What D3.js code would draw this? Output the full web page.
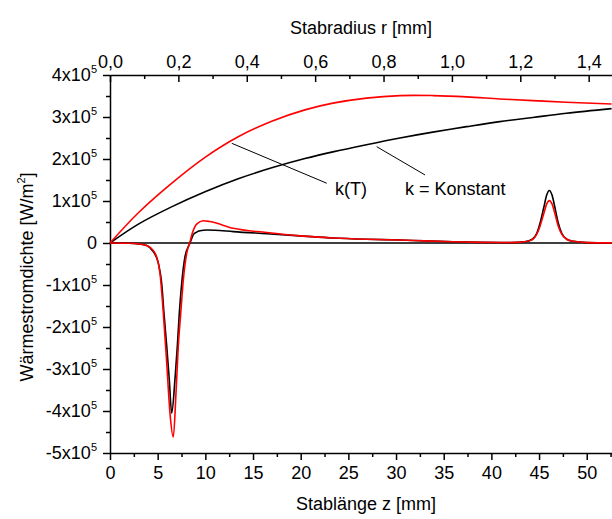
<!DOCTYPE html>
<html>
<head>
<meta charset="utf-8">
<script src="https://cdn.jsdelivr.net/npm/d3@7"></script>
<style>
  body { margin: 0; background: #fff; }
  svg { display: block; font-family: Arial, "Liberation Sans", sans-serif; }
  .axis path, .axis line { stroke: #000; stroke-width: 1.5px; }
  .axis text { font-size: 18px; fill: #000; font-family: Arial, "Liberation Sans", sans-serif; }
</style>
</head>
<body>
<div id="chart"></div>
<script>
// tick values
var zTicks = [0, 5, 10, 15, 20, 25, 30, 35, 40, 45, 50];
var rTicks = [0, 0.2, 0.4, 0.6, 0.8, 1.0, 1.2, 1.4];
var yTicks = [-500000, -400000, -300000, -200000, -100000, 0, 100000, 200000, 300000, 400000];

// upper curves, plotted against Stabradius r [mm]
var rRad   = [0, 0.083, 0.180, 0.278, 0.375, 0.473, 0.570, 0.652, 0.750, 0.848, 0.944, 1.043, 1.140, 1.237, 1.335, 1.467];
var qRadKT = [0, 72000, 142000, 204000, 253000, 290000, 317000, 333000, 345000, 351000, 351000, 348000, 343000, 339000, 335000, 331000];
var qRadK  = [0, 45000, 86000, 122000, 153000, 179000, 201000, 217000, 234000, 250000, 264000, 277000, 289000, 299000, 309000, 320000];

// lower curves, plotted against Stablänge z [mm]
var zKT = [0, 2.0, 3.0, 3.85, 4.72, 5.24, 5.59, 5.95, 6.29, 6.64, 6.92, 7.16, 7.42, 7.69, 8.05, 8.39, 8.63, 9.09, 9.79, 10.49, 12.93, 16.44, 19.93, 23.42, 26.92, 30.42, 33, 36, 39, 42, 43.5, 44.3, 44.76, 45.10, 45.52, 45.80, 46.08, 46.36, 46.64, 47.02, 47.38, 47.9, 48.6, 50, 52.65];
var qKT = [0, -500, -2000, -6000, -24000, -72000, -166000, -286000, -405000, -462000, -358000, -247000, -167000, -88000, -24000, 3000, 23000, 45000, 53000, 51000, 35000, 25000, 17000, 12000, 9000, 7000, 5000, 3000, 1500, 1000, 3000, 8000, 21000, 40000, 72000, 93000, 101000, 93000, 72000, 40000, 21000, 9000, 4000, 1000, 300];
var zK = [0, 2.0, 3.0, 3.85, 4.54, 5.07, 5.42, 5.66, 5.95, 6.22, 6.47, 6.81, 7.06, 7.27, 7.52, 7.87, 8.39, 8.74, 9.09, 9.44, 10.14, 11.0, 12.93, 16.44, 19.93, 23.4, 26.9, 30.4, 33, 36, 39, 42, 43.5, 44.3, 44.76, 45.10, 45.52, 45.80, 46.08, 46.36, 46.64, 47.02, 47.38, 47.9, 48.6, 50, 52.65];
var qK = [0, -500, -2000, -6000, -20500, -48000, -96000, -167000, -246000, -326000, -405000, -326000, -246000, -167000, -96000, -32000, 0, 20000, 26000, 29000, 31000, 30500, 27000, 22000, 17000, 12000, 9000, 7000, 5000, 3000, 1500, 1000, 3000, 9000, 23000, 47000, 87000, 114000, 125000, 114000, 87000, 47000, 23000, 9000, 4000, 1000, 300];

// labels with leader lines (data units: z, q)
var labels = [
  { text: "k(T)", from: [12.77, 237400], to: [22.73, 142300], at: [23.6, 114400] },
  { text: "k = Konstant", from: [27.97, 229400], to: [33.04, 162000], at: [30.94, 114400] }
];

var W = 612, H = 519;
var margin = { top: 75, right: 0, bottom: 66, left: 110 };
var width = W - margin.left - margin.right,
    height = H - margin.top - margin.bottom;

var svg = d3.select("#chart").append("svg")
    .attr("width", W)
    .attr("height", H);

var x = d3.scaleLinear().domain([0, 52.65]).range([0, width]);
var xr = d3.scaleLinear().domain([0, 52.65 / 35.86]).range([0, width]);
var y = d3.scaleLinear().domain([-500000, 400000]).range([height, 0]);

var g = svg.append("g")
    .attr("transform", "translate(" + margin.left + "," + margin.top + ")");

var comma = function (d) { return d3.format(".1f")(d).replace(".", ","); };

// minor ticks first
var zMinor = d3.range(2.5, 53, 5);
var rMinor = d3.range(0.1, 1.5, 0.2);
var yMinor = d3.range(-450000, 400000, 100000);

g.append("g").attr("class", "axis")
    .attr("transform", "translate(0," + height + ")")
    .call(d3.axisBottom(x).tickValues(zMinor).tickSize(4).tickFormat(""))
    .select(".domain").remove();
g.append("g").attr("class", "axis")
    .call(d3.axisTop(xr).tickValues(rMinor).tickSize(-4).tickFormat(""))
    .select(".domain").remove();
g.append("g").attr("class", "axis")
    .call(d3.axisLeft(y).tickValues(yMinor).tickSize(4).tickFormat(""))
    .select(".domain").remove();

// bottom axis
g.append("g").attr("class", "axis")
    .attr("transform", "translate(0," + height + ")")
    .call(d3.axisBottom(x).tickValues(zTicks).tickSize(7).tickSizeOuter(0).tickPadding(6));

// top axis
g.append("g").attr("class", "axis")
    .call(d3.axisTop(xr).tickValues(rTicks).tickSize(-7).tickSizeOuter(0).tickPadding(7).tickFormat(comma));

// left axis
var yAxis = g.append("g").attr("class", "axis")
    .call(d3.axisLeft(y).tickValues(yTicks).tickSize(7).tickSizeOuter(0).tickPadding(6).tickFormat(""));

yAxis.selectAll(".tick text").each(function (d) {
    var t = d3.select(this);
    if (d === 0) { t.text("0"); return; }
    t.append("tspan").text((d / 100000) + "x10");
    t.append("tspan").attr("dy", "-8").style("font-size", "11px").text("5");
});

// zero line
g.append("line")
    .attr("x1", 0).attr("x2", width)
    .attr("y1", y(0)).attr("y2", y(0))
    .attr("stroke", "#000").attr("stroke-width", 1.6);

var lineZ = d3.line()
    .x(function (d) { return x(d[0]); })
    .y(function (d) { return y(d[1]); })
    .curve(d3.curveMonotoneX);
var lineR = d3.line()
    .x(function (d) { return xr(d[0]); })
    .y(function (d) { return y(d[1]); })
    .curve(d3.curveCatmullRom);

var series = [
  { xs: rRad, ys: qRadK, line: lineR, color: "#000" },
  { xs: rRad, ys: qRadKT, line: lineR, color: "#ff0000" },
  { xs: zK, ys: qK, line: lineZ, color: "#000" },
  { xs: zKT, ys: qKT, line: lineZ, color: "#ff0000" }
];

series.forEach(function (s) {
    var pts = s.xs.map(function (v, i) { return [v, s.ys[i]]; });
    g.append("path")
        .datum(pts)
        .attr("d", s.line)
        .attr("fill", "none")
        .attr("stroke", s.color)
        .attr("stroke-width", 1.6);
});

// annotations
labels.forEach(function (l) {
    g.append("line")
        .attr("x1", x(l.from[0])).attr("y1", y(l.from[1]))
        .attr("x2", x(l.to[0])).attr("y2", y(l.to[1]))
        .attr("stroke", "#000").attr("stroke-width", 1);
    g.append("text")
        .attr("x", x(l.at[0])).attr("y", y(l.at[1]))
        .style("font-size", "18px")
        .text(l.text);
});

// axis titles
svg.append("text")
    .attr("x", 366).attr("y", 510)
    .attr("text-anchor", "middle")
    .style("font-size", "18px")
    .text("Stablänge z [mm]");

svg.append("text")
    .attr("x", 361).attr("y", 34)
    .attr("text-anchor", "middle")
    .style("font-size", "18px")
    .text("Stabradius r [mm]");

var yt = svg.append("text")
    .attr("transform", "translate(33,277) rotate(-90)")
    .attr("text-anchor", "middle")
    .style("font-size", "18px");
yt.append("tspan").text("Wärmestromdichte [W/m");
yt.append("tspan").attr("dy", "-8").style("font-size", "11px").text("2");
yt.append("tspan").attr("dy", "8").text("]");
</script>
</body>
</html>
